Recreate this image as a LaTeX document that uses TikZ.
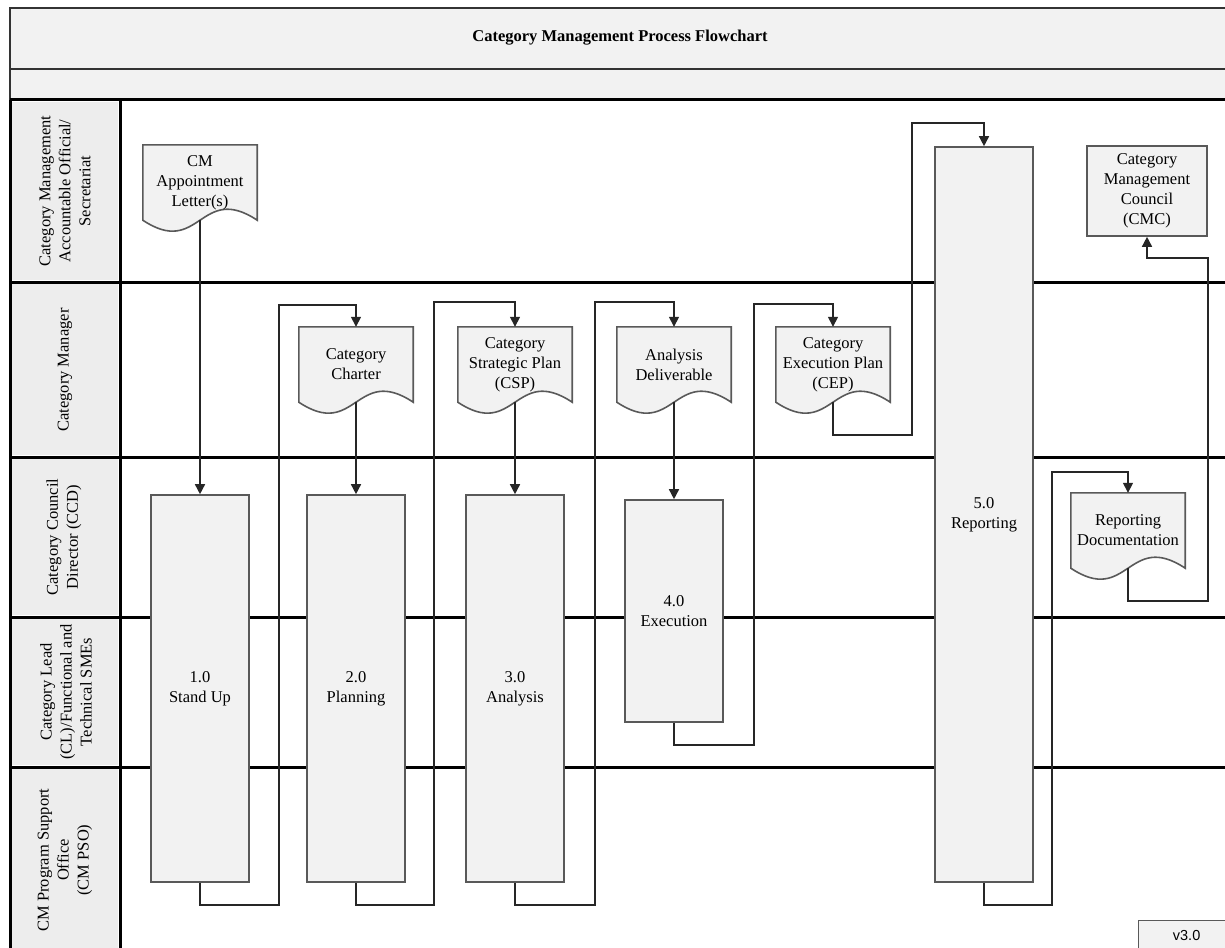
\documentclass[tikz,border=0pt]{standalone}
\usepackage{fontspec}
\setmainfont{Liberation Serif}
\newfontfamily\versans{Liberation Sans}
\usetikzlibrary{arrows.meta,calc}

\newcommand{\boxfont}{\fontsize{16.5}{20}\selectfont}

\tikzset{
  lane/.style={line width=3pt, black},
  band/.style={line width=1.6pt, black!80},
  cell/.style={fill=black!7},
  lanelabel/.style={rotate=90, font=\boxfont, align=center},
  proc/.style={rectangle, draw=black!65, line width=1.6pt, fill=black!5,
    minimum width=98, inner sep=0pt, align=center, font=\boxfont},
  docsize/.style={rectangle, minimum width=114, minimum height=75, inner sep=0pt},
  docline/.style={draw=black!65, line width=1.6pt, fill=black!5},
  doctext/.style={font=\boxfont, align=center},
  flow/.style={line width=1.5pt, black!85, -{Triangle[length=10pt,width=10pt]}},
}

% document shape with a wavy bottom edge
\newcommand{\docnode}[3]{%
  \node[docsize] (#1) at (#2) {};
  \draw[docline] (#1.north west) -- (#1.south west)
    .. controls ($(#1.south)+(0,38)$) and ($(#1.south)+(0,-38)$) .. (#1.south east)
    -- (#1.north east) -- cycle;
  \node[doctext] at (#1) {#3};
}

\begin{document}
\begin{tikzpicture}[x=1pt, y=-1pt]
\useasboundingbox (0,0) rectangle (1225,947);
\clip (0,0) rectangle (1225,947);

% title bands
\fill[black!5] (10,8) rectangle (1230,100);
\draw[band] (1230,8) -- (10,8) -- (10,100);
\draw[band] (10,69) -- (1230,69);
\node[font=\boxfont\bfseries] (title) at (620,38) {Category Management Process Flowchart};

% swim lanes
\foreach \t/\b in {100/282, 282/457, 457/617, 617/767, 767/960}
  \fill[cell] (12,\t+2) rectangle (118,\b-2);
\foreach \y in {100,282,457,617,767}
  \draw[lane] (10,\y) -- (1230,\y);
\draw[lane] (10,100) -- (10,960);
\draw[lane] (120,100) -- (120,960);

\node[lanelabel] (lane1) at (65,191) {Category Management\\Accountable Official/\\Secretariat};
\node[lanelabel] (lane2) at (65,370) {Category Manager};
\node[lanelabel] (lane3) at (64,537) {Category Council\\Director (CCD)};
\node[lanelabel] (lane4) at (66,692) {Category Lead\\(CL)/Functional and\\Technical SMEs};
\node[lanelabel] (lane5) at (65,860) {CM Program Support\\Office\\(CM PSO)};

% documents
\docnode{letter}{200,182.5}{CM\\Appointment\\Letter(s)}
\docnode{charter}{356,364.5}{Category\\Charter}
\docnode{csp}{515,364.5}{Category\\Strategic Plan\\(CSP)}
\docnode{deliv}{674,364.5}{Analysis\\Deliverable}
\docnode{cep}{833,364.5}{Category\\Execution Plan\\(CEP)}
\docnode{repdoc}{1128,530.5}{Reporting\\Documentation}

\node[proc, minimum width=120, minimum height=90] (cmc) at (1147,191) {Category\\Management\\Council\\(CMC)};

% process steps
\node[proc, minimum height=387] (standup) at (200,688.5) {1.0\\Stand Up};
\node[proc, minimum height=387] (planning) at (356,688.5) {2.0\\Planning};
\node[proc, minimum height=387] (analysis) at (515,688.5) {3.0\\Analysis};
\node[proc, minimum height=222] (execution) at (674,611) {4.0\\Execution};
\node[proc, minimum height=735] (reporting) at (984,514.5) {5.0\\Reporting};

\node[draw=black!65, fill=black!5, line width=1.2pt, minimum width=96, minimum height=30,
  anchor=north west, font=\versans\fontsize{14.5}{16}\selectfont] (version) at (1138,920) {v3.0};

% loop corners
\coordinate (l1) at (279,305);
\coordinate (l2) at (434,302);
\coordinate (l3) at (595,302);
\coordinate (l4) at (754,304);
\coordinate (l5) at (912,123);
\coordinate (l6) at (1052,472);
\coordinate (l7) at (1208,258);

% connectors
\draw[flow] (letter.south) -- (standup.north);
\draw[flow] (standup.south) -- ++(0,22) -| (l1) -| (charter.north);
\draw[flow] (charter.south) -- (planning.north);
\draw[flow] (planning.south) -- ++(0,22) -| (l2) -| (csp.north);
\draw[flow] (csp.south) -- (analysis.north);
\draw[flow] (analysis.south) -- ++(0,22) -| (l3) -| (deliv.north);
\draw[flow] (deliv.south) -- (execution.north);
\draw[flow] (execution.south) -- ++(0,22) -| (l4) -| (cep.north);
\draw[flow] (cep.south) -- ++(0,33) -| (l5) -| (reporting.north);
\draw[flow] (reporting.south) -- ++(0,22) -| (l6) -| (repdoc.north);
\draw[flow] (repdoc.south) -- ++(0,33) -| (l7) -| (cmc.south);
\end{tikzpicture}
\end{document}
